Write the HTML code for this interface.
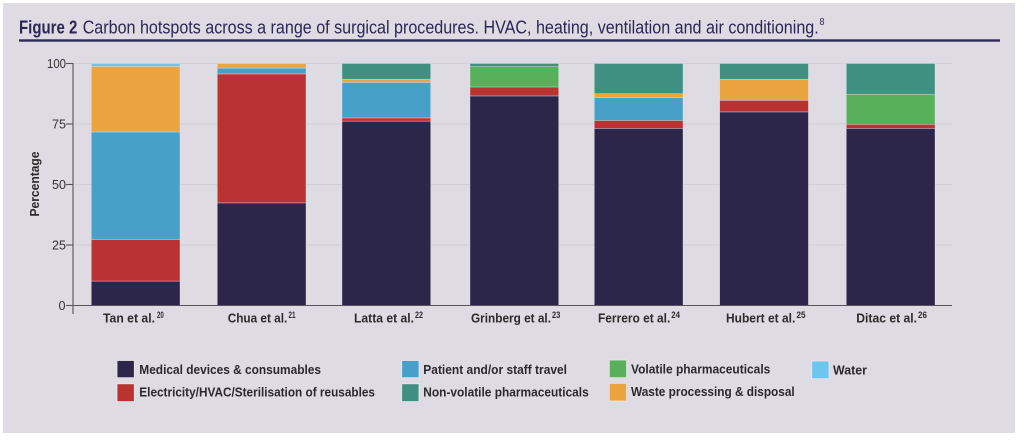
<!DOCTYPE html>
<html>
<head>
<meta charset="utf-8">
<style>
  html, body { margin: 0; padding: 0; background: #ffffff; }
  body { width: 1024px; height: 440px; overflow: hidden; }
  svg { display: block; }
  text { font-family: "Liberation Sans Narrow", "Liberation Sans", sans-serif; }
</style>
</head>
<body>
<svg width="1024" height="440" viewBox="0 0 1024 440" xmlns="http://www.w3.org/2000/svg">
  <!-- panel background -->
  <rect x="3" y="3" width="1012" height="430" fill="#dedbe2"/>

  <!-- title -->
  <text x="19" y="33.5" font-size="18" font-weight="bold" fill="#2b2755" textLength="58.3" lengthAdjust="spacingAndGlyphs">Figure 2</text>
  <text x="82.7" y="33.5" font-size="18" fill="#2b2755" textLength="736" lengthAdjust="spacingAndGlyphs">Carbon hotspots across a range of surgical procedures. HVAC, heating, ventilation and air conditioning.</text>
  <text x="819.5" y="25" font-size="10.5" fill="#2b2755" textLength="5" lengthAdjust="spacingAndGlyphs">8</text>
  <rect x="19" y="39.3" width="981" height="2.4" fill="#2d2a55"/>

  <!-- gridlines -->
  <g stroke="#d1ced6" stroke-width="1">
    <line x1="73" y1="63.5" x2="952" y2="63.5"/>
    <line x1="73" y1="124" x2="952" y2="124"/>
    <line x1="73" y1="184.5" x2="952" y2="184.5"/>
    <line x1="73" y1="245" x2="952" y2="245"/>
  </g>

  <!-- bars -->
  <g stroke="#e8e6ec" stroke-width="0.6" stroke-opacity="0.6">
    <!-- Tan -->
    <rect x="91.3" y="281.06" width="88.7" height="24.44" fill="#2c264b"/>
    <rect x="91.3" y="239.43" width="88.7" height="41.62" fill="#b93333"/>
    <rect x="91.3" y="131.99" width="88.7" height="107.45" fill="#46a0c8"/>
    <rect x="91.3" y="66.4" width="88.7" height="65.6" fill="#eba440"/>
    <rect x="91.3" y="63.5" width="88.7" height="2.9" fill="#6ec6ee"/>
    <!-- Chua -->
    <rect x="217.3" y="202.89" width="88.7" height="102.61" fill="#2c264b"/>
    <rect x="217.3" y="73.91" width="88.7" height="128.98" fill="#b93333"/>
    <rect x="217.3" y="68.1" width="88.7" height="5.81" fill="#46a0c8"/>
    <rect x="217.3" y="63.5" width="88.7" height="4.6" fill="#eba440"/>
    <!-- Latta -->
    <rect x="342" y="121.1" width="88.7" height="184.4" fill="#2c264b"/>
    <rect x="342" y="117.95" width="88.7" height="3.15" fill="#b93333"/>
    <rect x="342" y="82.38" width="88.7" height="35.57" fill="#46a0c8"/>
    <rect x="342" y="79.23" width="88.7" height="3.15" fill="#eba440"/>
    <rect x="342" y="63.5" width="88.7" height="15.73" fill="#3f9080"/>
    <!-- Grinberg -->
    <rect x="470" y="95.93" width="88.7" height="209.57" fill="#2c264b"/>
    <rect x="470" y="86.97" width="88.7" height="8.96" fill="#b93333"/>
    <rect x="470" y="66.65" width="88.7" height="20.32" fill="#59b05a"/>
    <rect x="470" y="63.5" width="88.7" height="3.15" fill="#3f9080"/>
    <!-- Ferrero -->
    <rect x="594.3" y="128.36" width="88.7" height="177.14" fill="#2c264b"/>
    <rect x="594.3" y="120.37" width="88.7" height="7.99" fill="#b93333"/>
    <rect x="594.3" y="97.62" width="88.7" height="22.75" fill="#46a0c8"/>
    <rect x="594.3" y="93.75" width="88.7" height="3.87" fill="#eba440"/>
    <rect x="594.3" y="63.5" width="88.7" height="30.25" fill="#3f9080"/>
    <!-- Hubert -->
    <rect x="719.7" y="111.9" width="88.7" height="193.6" fill="#2c264b"/>
    <rect x="719.7" y="100.28" width="88.7" height="11.62" fill="#b93333"/>
    <rect x="719.7" y="79.23" width="88.7" height="21.05" fill="#eba440"/>
    <rect x="719.7" y="63.5" width="88.7" height="15.73" fill="#3f9080"/>
    <!-- Ditac -->
    <rect x="846.3" y="128.36" width="88.7" height="177.14" fill="#2c264b"/>
    <rect x="846.3" y="124.24" width="88.7" height="4.12" fill="#b93333"/>
    <rect x="846.3" y="94.23" width="88.7" height="30.01" fill="#59b05a"/>
    <rect x="846.3" y="63.5" width="88.7" height="30.73" fill="#3f9080"/>
  </g>

  <!-- axes -->
  <g stroke="#55535a" stroke-width="1.1">
    <line x1="73" y1="63" x2="73" y2="314"/>
    <line x1="73" y1="305.5" x2="952" y2="305.5"/>
    <line x1="66" y1="63.5" x2="73" y2="63.5"/>
    <line x1="66" y1="124" x2="73" y2="124"/>
    <line x1="66" y1="184.5" x2="73" y2="184.5"/>
    <line x1="66" y1="245" x2="73" y2="245"/>
    <line x1="66" y1="305.5" x2="73" y2="305.5"/>
  </g>

  <!-- y tick labels -->
  <g font-size="12.5" fill="#333333" text-anchor="end">
    <text x="66" y="68" textLength="19" lengthAdjust="spacingAndGlyphs">100</text>
    <text x="66" y="128.5" textLength="14" lengthAdjust="spacingAndGlyphs">75</text>
    <text x="66" y="189" textLength="14" lengthAdjust="spacingAndGlyphs">50</text>
    <text x="66" y="249.5" textLength="14" lengthAdjust="spacingAndGlyphs">25</text>
    <text x="65.5" y="310" textLength="7" lengthAdjust="spacingAndGlyphs">0</text>
  </g>
  <text transform="translate(39,184) rotate(-90)" text-anchor="middle" font-size="12.5" font-weight="bold" fill="#2a2a2a" textLength="65" lengthAdjust="spacingAndGlyphs">Percentage</text>

  <!-- x labels -->
  <g font-size="12.5" font-weight="bold" fill="#2b2b2b">
    <text x="103" y="322.7" textLength="52" lengthAdjust="spacingAndGlyphs">Tan et al.</text>
    <text x="157" y="318" font-size="9.5" textLength="6.8" lengthAdjust="spacingAndGlyphs">20</text>
    <text x="227.7" y="322.7" textLength="59.6" lengthAdjust="spacingAndGlyphs">Chua et al.</text>
    <text x="288.5" y="318" font-size="9.5" textLength="7" lengthAdjust="spacingAndGlyphs">21</text>
    <text x="354" y="322.7" textLength="60" lengthAdjust="spacingAndGlyphs">Latta et al.</text>
    <text x="415" y="318" font-size="9.5" textLength="8" lengthAdjust="spacingAndGlyphs">22</text>
    <text x="471" y="322.7" textLength="80" lengthAdjust="spacingAndGlyphs">Grinberg et al.</text>
    <text x="552" y="318" font-size="9.5" textLength="8.3" lengthAdjust="spacingAndGlyphs">23</text>
    <text x="598" y="322.7" textLength="72.3" lengthAdjust="spacingAndGlyphs">Ferrero et al.</text>
    <text x="671.3" y="318" font-size="9.5" textLength="8.7" lengthAdjust="spacingAndGlyphs">24</text>
    <text x="726" y="322.7" textLength="69.3" lengthAdjust="spacingAndGlyphs">Hubert et al.</text>
    <text x="796.5" y="318" font-size="9.5" textLength="9" lengthAdjust="spacingAndGlyphs">25</text>
    <text x="856.3" y="322.7" textLength="60.7" lengthAdjust="spacingAndGlyphs">Ditac et al.</text>
    <text x="918" y="318" font-size="9.5" textLength="9" lengthAdjust="spacingAndGlyphs">26</text>
  </g>

  <!-- legend -->
  <g stroke="#ebe9ef" stroke-width="0.8">
    <rect x="117" y="360.5" width="17.3" height="17.2" fill="#2c264b"/>
    <rect x="117" y="383.8" width="17.3" height="17.8" fill="#b93333"/>
    <rect x="401.7" y="360.5" width="17.3" height="17.2" fill="#46a0c8"/>
    <rect x="401.7" y="383.8" width="17.3" height="17.8" fill="#3f9080"/>
    <rect x="609.3" y="360" width="17.3" height="17.7" fill="#59b05a"/>
    <rect x="609.3" y="383.3" width="17.3" height="17.7" fill="#eba440"/>
    <rect x="811.7" y="361" width="17.3" height="17.7" fill="#6ec6ee"/>
  </g>
  <g font-size="12.8" font-weight="bold" fill="#2a2a2e">
    <text x="139.3" y="374" textLength="181.7" lengthAdjust="spacingAndGlyphs">Medical devices &amp; consumables</text>
    <text x="139.3" y="396.5" textLength="235.7" lengthAdjust="spacingAndGlyphs">Electricity/HVAC/Sterilisation of reusables</text>
    <text x="423.3" y="374" textLength="143.7" lengthAdjust="spacingAndGlyphs">Patient and/or staff travel</text>
    <text x="423.3" y="396.5" textLength="165.4" lengthAdjust="spacingAndGlyphs">Non-volatile pharmaceuticals</text>
    <text x="631" y="373.5" textLength="139.3" lengthAdjust="spacingAndGlyphs">Volatile pharmaceuticals</text>
    <text x="631" y="396" textLength="163.7" lengthAdjust="spacingAndGlyphs">Waste processing &amp; disposal</text>
    <text x="833" y="374.5" textLength="34" lengthAdjust="spacingAndGlyphs">Water</text>
  </g>
</svg>
</body>
</html>
